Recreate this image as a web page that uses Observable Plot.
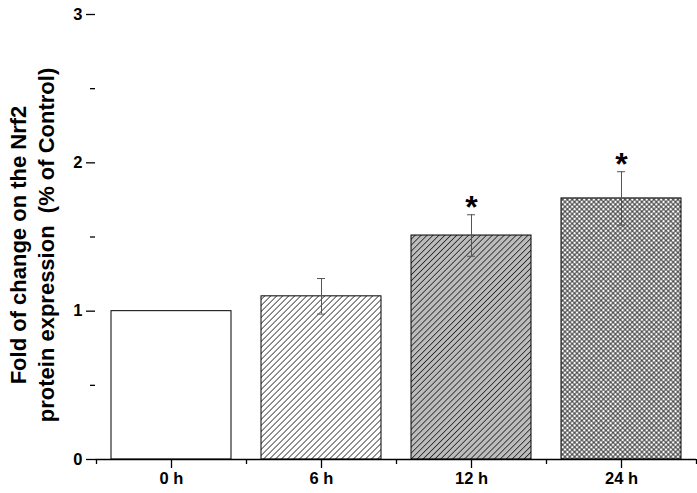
<!DOCTYPE html>
<html>
<head>
<meta charset="utf-8">
<script src="https://cdn.jsdelivr.net/npm/d3@7"></script>
<script src="https://cdn.jsdelivr.net/npm/@observablehq/plot@0.6"></script>
<style>
  html, body { margin: 0; padding: 0; background: #fff; }
  #chart { width: 697px; height: 493px; }
  svg { font-family: "Liberation Sans", Arial, sans-serif; }
</style>
</head>
<body>
<div id="chart"></div>
<script>
// ---- data ----
const categories = ["0 h", "6 h", "12 h", "24 h"];
const values = [1.0, 1.10, 1.51, 1.76];
const errors = [0, 0.12, 0.14, 0.18];
const significant = [false, false, true, true];
const yTicks = [0, 1, 2, 3];
const yMinorTicks = [0.5, 1.5, 2.5];
const yLabel = "Fold of change on the Nrf2\nprotein expression  (% of Control)";

const data = categories.map((c, i) => ({
  cat: c, value: values[i], err: errors[i], lo: values[i] - errors[i], hi: values[i] + errors[i], sig: significant[i]
}));

const fills = ["white", "url(#hatchWhite)", "url(#hatchGrey)", "url(#crossHatch)"];

const plot = Plot.plot({
  width: 697,
  height: 493,
  marginLeft: 95,
  marginRight: 1,
  marginTop: 14,
  marginBottom: 34,
  style: {fontFamily: "'Liberation Sans', Arial, sans-serif", background: "white", color: "black"},
  x: {domain: categories, paddingInner: 0.2, paddingOuter: 0.1, axis: null},
  y: {domain: [0, 3], axis: null},
  color: {type: "identity"},
  marks: [
    Plot.barY(data, {x: "cat", y: "value", fill: (d) => fills[categories.indexOf(d.cat)], stroke: "black", strokeWidth: 1}),
    Plot.ruleX(data.filter(d => d.err > 0), {x: "cat", y1: "lo", y2: "hi", stroke: "#555", strokeWidth: 1}),
    Plot.tickY(data.filter(d => d.err > 0), {x: "cat", y: "hi", stroke: "#555", strokeWidth: 1, insetLeft: 56, insetRight: 56}),
    Plot.tickY(data.filter(d => d.err > 0), {x: "cat", y: "lo", stroke: "#555", strokeWidth: 1, insetLeft: 56, insetRight: 56}),
    Plot.text(data.filter(d => d.sig), {x: "cat", y: "hi", text: () => "*", fontSize: 32, fontWeight: "bold", dy: 3, lineAnchor: "bottom", fill: "black"}),
    // axes
    Plot.ruleY([0], {stroke: "black", strokeWidth: 1.3}),
    Plot.axisY({ticks: yTicks, tickSize: 9, tickFormat: () => "", label: null, line: true, stroke: "black", strokeWidth: 1.3}),
    Plot.axisY({ticks: yMinorTicks, tickSize: 5, tickFormat: () => "", label: null, stroke: "black", strokeWidth: 1.3}),
    Plot.axisX({tickSize: 9, tickFormat: () => "", label: null, stroke: "black", strokeWidth: 1.3}),
    Plot.ruleX(categories, {x: d => d, y1: 0, y2: -5 / 148.3, dx: -75, stroke: "black", strokeWidth: 1.3}),
    Plot.ruleX(categories.slice(-1), {x: d => d, y1: 0, y2: -5 / 148.3, dx: 75, stroke: "black", strokeWidth: 1.3}),
    // tick labels
    Plot.text(categories, {x: d => d, text: d => d, frameAnchor: "bottom", dy: 24, fontSize: 16.5, fontWeight: "bold", fill: "black"}),
    Plot.text(yTicks, {y: d => d, text: d => String(d), frameAnchor: "left", textAnchor: "end", dx: -13, fontSize: 16.5, fontWeight: "bold", fill: "black"}),
    // y-axis title
    Plot.text([yLabel], {text: d => d, frameAnchor: "left", textAnchor: "middle", dx: -64, dy: 8, rotate: -90, fontSize: 22, fontWeight: "bold", lineHeight: 1.27, fill: "black"})
  ]
});

// pattern definitions
const svg = d3.select(plot);
const defs = svg.insert("defs", ":first-child");
const p1 = defs.append("pattern").attr("id", "hatchWhite").attr("patternUnits", "userSpaceOnUse")
  .attr("width", 4.24).attr("height", 4.24).attr("patternTransform", "rotate(45)");
p1.append("rect").attr("width", 4.24).attr("height", 4.24).attr("fill", "white");
p1.append("line").attr("x1", 2.12).attr("x2", 2.12).attr("y1", 0).attr("y2", 4.24).attr("stroke", "#333").attr("stroke-width", 0.8);

const p2 = defs.append("pattern").attr("id", "hatchGrey").attr("patternUnits", "userSpaceOnUse")
  .attr("width", 4.2).attr("height", 4.2).attr("patternTransform", "rotate(45)");
p2.append("rect").attr("width", 4.2).attr("height", 4.2).attr("fill", "#bcbcbc");
p2.append("line").attr("x1", 2.1).attr("x2", 2.1).attr("y1", 0).attr("y2", 4.2).attr("stroke", "#222").attr("stroke-width", 0.8);

const p3 = defs.append("pattern").attr("id", "crossHatch").attr("patternUnits", "userSpaceOnUse")
  .attr("width", 3.4).attr("height", 3.4).attr("patternTransform", "rotate(45)");
p3.append("rect").attr("width", 3.4).attr("height", 3.4).attr("fill", "white");
p3.append("line").attr("x1", 1.7).attr("x2", 1.7).attr("y1", 0).attr("y2", 3.4).attr("stroke", "#222").attr("stroke-width", 0.9);
p3.append("line").attr("y1", 1.7).attr("y2", 1.7).attr("x1", 0).attr("x2", 3.4).attr("stroke", "#222").attr("stroke-width", 0.9);

document.getElementById("chart").appendChild(plot);
</script>
</body>
</html>
